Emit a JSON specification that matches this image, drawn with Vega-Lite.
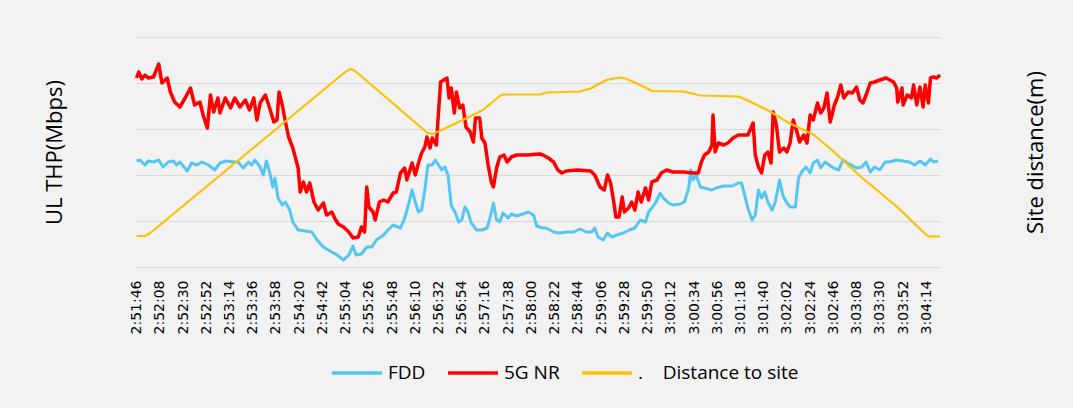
{
  "$schema": "https://vega.github.io/schema/vega-lite/v6.json",
  "width": 805,
  "height": 230,
  "autosize": {"type": "none"},
  "padding": {"left": 135, "top": 37, "right": 133, "bottom": 141},
  "background": "#f2f2f2",
  "config": {"view": {"stroke": null}, "font": "Open Sans", "axisX": {"labelOverlap": false, "labelBound": false, "labelFlush": false}},
  "datasets": {
    "fdd": [[0,106],[3,107],[8,102],[11,106],[16,105],[21,107],[25,100],[30,105],[35,106],[38,102],[41,105],[48,96],[52,104],[57,102],[62,105],[68,102],[74,97],[79,104],[85,106],[92,105],[96,105],[101,99],[106,105],[109,102],[112,107],[117,100],[120,92],[123,106],[126,95],[129,80],[131,89],[134,69],[138,62],[141,65],[145,57],[148,45],[153,37],[160,36],[166,35],[171,27],[177,20],[183,16],[190,12],[196,7],[201,12],[205,21],[208,12],[213,13],[218,20],[223,20],[227,27],[234,32],[238,37],[243,42],[250,39],[254,49],[257,60],[261,77],[264,65],[267,55],[270,57],[273,77],[276,102],[280,102],[283,107],[286,102],[289,97],[292,100],[295,92],[298,62],[302,54],[305,45],[308,47],[311,60],[314,55],[317,44],[322,37],[327,37],[332,39],[335,50],[338,64],[341,47],[344,45],[347,54],[352,49],[355,53],[360,51],[366,53],[371,55],[376,52],[379,41],[384,39],[388,39],[395,35],[401,34],[407,35],[414,35],[420,38],[426,35],[431,35],[434,39],[437,30],[442,27],[446,34],[450,30],[455,32],[461,34],[467,37],[472,39],[477,47],[482,45],[485,55],[488,59],[492,65],[496,74],[499,69],[504,64],[508,62],[515,63],[519,65],[523,79],[525,97],[527,87],[530,92],[534,80],[538,79],[545,77],[549,79],[556,81],[564,81],[570,84],[573,84],[576,72],[579,59],[583,47],[586,52],[589,77],[592,69],[595,75],[598,65],[602,57],[605,65],[609,87],[612,72],[616,64],[619,60],[624,60],[627,89],[630,95],[634,100],[638,94],[641,104],[645,107],[648,99],[652,105],[656,102],[660,99],[665,97],[669,107],[673,104],[677,102],[682,99],[687,100],[691,105],[695,95],[699,100],[704,97],[709,105],[713,105],[720,107],[726,106],[732,105],[737,102],[742,106],[747,102],[752,108],[755,105],[759,106]],
    "nr": [[0,189],[2,195],[5,188],[8,192],[11,189],[16,190],[21,203],[24,184],[29,189],[32,175],[36,165],[41,160],[46,169],[51,179],[55,162],[60,165],[63,152],[67,139],[70,172],[73,155],[77,169],[79,154],[84,169],[89,159],[93,169],[98,160],[103,167],[107,157],[111,169],[114,147],[117,164],[122,172],[126,159],[130,145],[133,147],[135,175],[138,162],[141,145],[144,130],[148,119],[153,99],[155,75],[158,85],[161,75],[164,84],[168,65],[172,57],[177,64],[180,52],[185,55],[188,48],[191,43],[196,40],[201,35],[205,29],[210,30],[213,40],[216,35],[218,80],[220,60],[224,55],[226,47],[230,65],[234,67],[238,65],[243,74],[246,75],[250,94],[254,99],[256,87],[261,104],[264,92],[267,104],[270,114],[273,120],[275,130],[278,119],[280,129],[284,122],[286,155],[288,185],[291,187],[294,189],[296,169],[298,179],[301,154],[303,175],[306,159],[309,162],[312,140],[316,135],[319,125],[321,149],[325,149],[327,129],[330,124],[333,102],[336,85],[338,80],[341,99],[344,110],[348,112],[351,105],[355,110],[360,112],[370,112],[382,113],[385,112],[390,109],[395,105],[399,97],[403,94],[407,96],[417,97],[430,96],[434,92],[439,80],[443,77],[446,92],[449,84],[452,65],[454,50],[457,50],[460,70],[462,55],[466,59],[469,65],[472,57],[475,75],[478,65],[482,79],[485,67],[488,85],[493,87],[497,94],[502,97],[508,95],[518,95],[527,94],[532,94],[535,105],[538,112],[542,115],[545,122],[546,152],[548,115],[551,124],[556,122],[560,124],[565,129],[570,132],[579,132],[584,144],[586,112],[589,100],[592,94],[595,112],[598,115],[601,104],[603,155],[606,142],[609,115],[613,119],[616,115],[619,124],[622,147],[625,137],[628,125],[632,132],[635,124],[638,152],[641,147],[645,164],[648,154],[651,159],[654,174],[657,145],[661,162],[664,170],[667,182],[670,169],[674,175],[678,174],[682,180],[685,167],[688,164],[691,172],[695,184],[699,185],[704,187],[710,189],[717,185],[720,179],[721,165],[725,179],[726,162],[730,172],[734,169],[736,182],[739,162],[742,180],[745,160],[747,182],[750,164],[752,189],[755,190],[758,189],[761,192]],
    "dist": [[0,62],[8,62],[13,68],[193,382],[199,392],[203,396],[207,392],[275,269],[280,266],[287,272],[309,294],[328,314],[344,342],[347,345],[382,345],[389,349],[420,351],[430,357],[445,374],[457,379],[463,377],[477,364],[488,352],[518,351],[534,343],[570,341],[581,331],[600,311],[619,287],[641,265],[657,237],[688,177],[720,121],[748,64],[751,61],[761,61]]
  },
  "encoding": {
    "x": {"field": "t", "type": "quantitative", "scale": {"domain": [-1.5, 761], "nice": false, "zero": false},
      "axis": {"values": [0,22,44,66,88,110,132,154,176,198,220,242,264,286,308,330,352,374,396,418,440,462,484,506,528,550,572,594,616,638,660,682,704,726,748],
        "labelExpr": "floor((10306+datum.value)/3600) + ':' + format(floor(((10306+datum.value)%3600)/60),'02d') + ':' + format((10306+datum.value)%60,'02d')",
        "labelAngle": 270, "labelAlign": "right", "labelBaseline": "middle", "labelFont": "DejaVu Sans", "labelFontSize": 14, "labelColor": "#000000",
        "labelPadding": 13, "labelOverlap": false, "labelBound": false, "labelSeparation": 0, "ticks": false, "domain": false, "grid": false, "title": null}}
  },
  "layer": [
    {
      "layer": [
        {
          "data": {"name": "fdd"},
          "transform": [{"calculate": "datum[0]", "as": "t"}, {"calculate": "datum[1]", "as": "mbps"}, {"calculate": "'FDD'", "as": "series"}],
          "mark": {"type": "line", "strokeWidth": 3, "strokeJoin": "round"},
          "encoding": {
            "y": {"field": "mbps", "type": "quantitative", "scale": {"domain": [0, 230], "nice": false},
              "axis": {"values": [0,46,92,138,184,230], "labels": false, "ticks": false, "domain": false, "grid": true, "gridColor": "#d9d9d9", "gridWidth": 1,
                "title": "UL THP(Mbps)", "titleFont": "Open Sans", "titleFontSize": 22, "titleFontWeight": "normal", "titleColor": "#000000",
                "titleAngle": 270, "titleBaseline": "bottom", "titlePadding": 69}},
            "color": {"field": "series", "type": "nominal",
              "scale": {"domain": ["FDD", "5G NR", "Distance to site"], "range": ["#55C6F2", "#FF0000", "#FFC000"]},
              "legend": {"orient": "none", "legendX": 195, "legendY": 309, "direction": "horizontal", "title": null, "padding": 0,
                "symbolType": "stroke", "symbolSize": 2500, "symbolStrokeWidth": 3.5, "labelFont": "Open Sans", "labelFontSize": 19, "labelColor": "#000000",
                "labelOffset": 4, "columnPadding": 15, "labelLimit": 400,
                "labelExpr": "datum.label == 'Distance to site' ? '.\u00a0\u00a0\u00a0\u00a0Distance to site' : datum.label"}}
          }
        },
        {
          "data": {"name": "nr"},
          "transform": [{"calculate": "datum[0]", "as": "t"}, {"calculate": "datum[1]", "as": "mbps"}, {"calculate": "'5G NR'", "as": "series"}],
          "mark": {"type": "line", "strokeWidth": 3.5, "strokeJoin": "round"},
          "encoding": {
            "y": {"field": "mbps", "type": "quantitative"},
            "color": {"field": "series", "type": "nominal"}
          }
        }
      ]
    },
    {
      "data": {"name": "dist"},
      "transform": [{"calculate": "datum[0]", "as": "t"}, {"calculate": "datum[1]", "as": "m"}, {"calculate": "'Distance to site'", "as": "series"}],
      "mark": {"type": "line", "strokeWidth": 2.2, "strokeJoin": "round"},
      "encoding": {
        "y": {"field": "m", "type": "quantitative", "scale": {"domain": [0, 460], "nice": false},
          "axis": {"orient": "right", "labels": false, "ticks": false, "domain": false, "grid": false,
            "title": "Site distance(m)", "titleFont": "Open Sans", "titleFontSize": 22, "titleFontWeight": "normal", "titleColor": "#000000",
            "titleAngle": 270, "titleBaseline": "top", "titlePadding": 85}},
        "color": {"field": "series", "type": "nominal"}
      }
    }
  ],
  "resolve": {"scale": {"y": "independent"}}
}
